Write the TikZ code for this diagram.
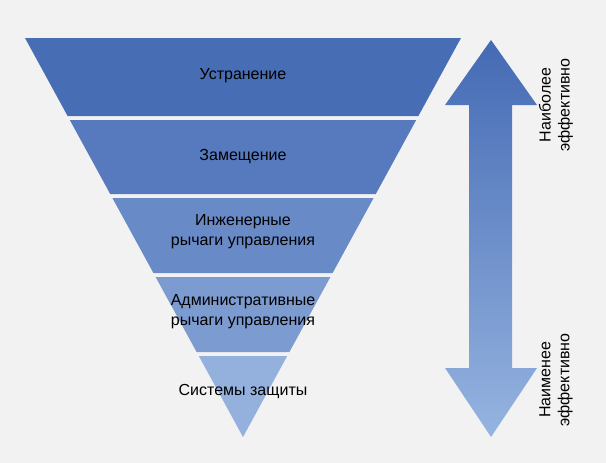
\documentclass[tikz,border=0pt]{standalone}
\usepackage{fontspec}
\setmainfont{Liberation Sans}
\begin{document}
\begin{tikzpicture}[x=1pt,y=-1pt,
  lbl/.style={font=\fontsize{16}{20}\selectfont,align=center,text=black},
  side/.style={font=\fontsize{16}{19}\selectfont,align=center,rotate=90,text=black}]
\fill[gray!10] (0,0) rectangle (606,463);
\useasboundingbox (0,0) rectangle (606,463);
\fill[fill={rgb,255:red,71;green,109;blue,181}] (25,38) -- (461,38) -- (418.4,116) -- (67.6,116) -- cycle;
\fill[fill={rgb,255:red,86;green,122;blue,189}] (69.8,120) -- (416.2,120) -- (375.8,194) -- (110.2,194) -- cycle;
\fill[fill={rgb,255:red,104;green,138;blue,199}] (112.4,198) -- (373.6,198) -- (332.6,273) -- (153.4,273) -- cycle;
\fill[fill={rgb,255:red,124;green,155;blue,209}] (155.6,277) -- (330.4,277) -- (289.4,352) -- (196.6,352) -- cycle;
\fill[fill={rgb,255:red,148;green,177;blue,222}] (198.8,356) -- (287.2,356) -- (243,437) -- cycle;
\node[lbl] (b1) at (243,76) {Устранение};
\node[lbl] (b2) at (243,157) {Замещение};
\node[lbl] (b3) at (243,232) {Инженерные\\рычаги управления};
\node[lbl] (b4) at (243,312) {Административные\\рычаги управления};
\node[lbl] (b5) at (243,392) {Системы защиты};
\shade[top color={rgb,255:red,68;green,106;blue,180}, bottom color={rgb,255:red,150;green,180;blue,224}]
  (491,40) -- (537,105) -- (512,105) -- (512,368) -- (537,368) -- (491,437) -- (445,368) -- (469,368) -- (469,105) -- (445,105) -- cycle;
\node[side] (top) at (556,105) {Наиболее\\эффективно};
\node[side] (bot) at (556,380) {Наименее\\эффективно};
\end{tikzpicture}
\end{document}
